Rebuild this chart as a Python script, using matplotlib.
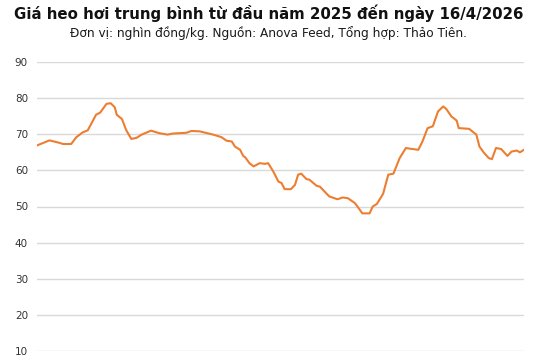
import matplotlib
matplotlib.use("Agg")
from matplotlib import pyplot as plt

# ngày tính từ 1/1/2025 và giá heo hơi (nghìn đồng/kg)
ngay = [0, 12, 22, 25, 33, 38, 44, 49, 57, 61, 67, 71, 75, 77, 82, 86, 91, 96,
        101, 110, 118, 126, 131, 144, 149, 157, 170, 178, 183, 188, 191, 196,
        199, 201, 205, 209, 215, 220, 223, 225, 228, 233, 236, 239, 245, 249,
        252, 255, 260, 263, 270, 273, 282, 290, 295, 300, 307, 311, 314, 321,
        324, 328, 334, 339, 344, 350, 356, 360, 368, 372, 377, 382, 387, 392,
        395, 400, 405, 407, 417, 424, 427, 431, 436, 439, 443, 448, 454, 458,
        463, 466, 470]
gia = [66.9, 68.3, 67.6, 67.3, 67.3, 69.2, 70.5, 71.1, 75.4, 76.0, 78.4, 78.6,
       77.5, 75.4, 74.2, 71.2, 68.7, 69.0, 69.9, 71.0, 70.3, 69.9, 70.2, 70.4,
       70.9, 70.8, 69.9, 69.2, 68.2, 68.0, 66.6, 65.7, 64.0, 63.6, 62.0, 61.1,
       62.0, 61.8, 62.0, 61.1, 59.7, 56.9, 56.5, 54.8, 54.8, 56.0, 58.8, 59.1,
       57.6, 57.4, 55.7, 55.5, 52.8, 52.0, 52.5, 52.3, 50.9, 49.3, 48.1, 48.1,
       50.0, 50.7, 53.5, 58.8, 59.1, 63.4, 66.2, 66.0, 65.7, 68.0, 71.7, 72.2,
       76.3, 77.7, 77.0, 74.9, 73.8, 71.7, 71.5, 69.9, 66.6, 65.0, 63.4, 63.1,
       66.2, 65.9, 64.0, 65.2, 65.5, 65.0, 65.7]
muc_y = [10, 20, 30, 40, 50, 60, 70, 80, 90]

fig = plt.figure(figsize=(5.4, 3.6), dpi=100)
ax = fig.add_axes([37 / 540, 1 - 351 / 360, 487 / 540, 289 / 360])

ax.plot(ngay, gia, color='#ED7D31', linewidth=1.5, solid_joinstyle='round')

ax.set_ylim(10, 90)
ax.set_xlim(0, 470)
ax.set_yticks(muc_y)
ax.set_xticks([])
ax.grid(axis='y', color='#D9D9D9', linewidth=1)
ax.set_axisbelow(True)
for s in ax.spines.values():
    s.set_visible(False)
ax.tick_params(axis='y', length=0, pad=6.5, labelsize=7.5, labelcolor='#333333')

fig.text(0.497, 0.962, 'Giá heo hơi trung bình từ đầu năm 2025 đến ngày 16/4/2026',
         ha='center', va='center', fontsize=10.8, fontweight='bold', color='#111111')
fig.text(0.497, 0.908, 'Đơn vị: nghìn đồng/kg. Nguồn: Anova Feed, Tổng hợp: Thảo Tiên.',
         ha='center', va='center', fontsize=8.7, color='#1a1a1a')

fig.savefig('out.png', dpi=100)
